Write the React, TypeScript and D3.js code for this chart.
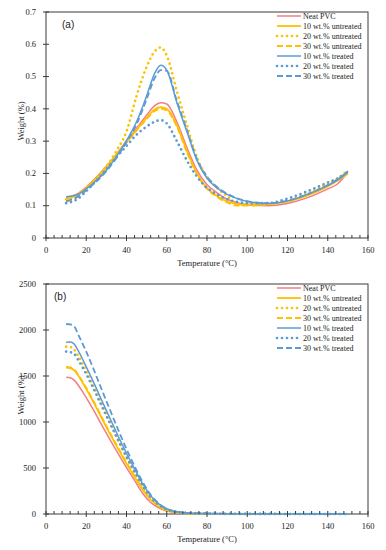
import React from 'react';
import * as d3 from 'd3';

// panel (a) temperatures and weight (%)
const tempA = [10, 15, 20, 25, 30, 35, 40, 45, 50, 54, 57, 60, 65, 70, 75, 80, 85, 90, 95, 100, 110, 120, 130, 140, 145, 150];
const neatA = [0.125, 0.135, 0.158, 0.188, 0.222, 0.26, 0.3, 0.34, 0.38, 0.41, 0.419, 0.415, 0.36, 0.28, 0.21, 0.165, 0.14, 0.12, 0.109, 0.103, 0.1, 0.107, 0.125, 0.152, 0.168, 0.205];
const untr10A = [0.122, 0.132, 0.155, 0.185, 0.22, 0.258, 0.297, 0.335, 0.372, 0.398, 0.405, 0.4, 0.35, 0.27, 0.2, 0.155, 0.13, 0.113, 0.105, 0.104, 0.105, 0.113, 0.132, 0.16, 0.178, 0.2];
const untr20A = [0.12, 0.13, 0.155, 0.185, 0.222, 0.27, 0.33, 0.44, 0.53, 0.578, 0.59, 0.565, 0.455, 0.35, 0.25, 0.19, 0.155, 0.13, 0.105, 0.103, 0.105, 0.115, 0.138, 0.168, 0.185, 0.21];
const untr30A = [0.112, 0.125, 0.15, 0.182, 0.217, 0.255, 0.295, 0.333, 0.368, 0.393, 0.4, 0.395, 0.345, 0.265, 0.197, 0.152, 0.127, 0.11, 0.1, 0.1, 0.104, 0.113, 0.133, 0.162, 0.18, 0.2];
const tr10A = [0.128, 0.133, 0.152, 0.178, 0.21, 0.252, 0.302, 0.36, 0.44, 0.51, 0.535, 0.52, 0.42, 0.33, 0.24, 0.185, 0.155, 0.135, 0.122, 0.113, 0.107, 0.115, 0.135, 0.163, 0.18, 0.205];
const tr20A = [0.108, 0.118, 0.145, 0.178, 0.213, 0.25, 0.285, 0.32, 0.345, 0.36, 0.365, 0.355, 0.3, 0.24, 0.19, 0.155, 0.135, 0.12, 0.112, 0.108, 0.108, 0.122, 0.145, 0.172, 0.185, 0.205];
const tr30A = [0.115, 0.125, 0.148, 0.175, 0.207, 0.248, 0.297, 0.352, 0.43, 0.495, 0.52, 0.518, 0.425, 0.335, 0.245, 0.19, 0.158, 0.137, 0.123, 0.114, 0.108, 0.116, 0.136, 0.164, 0.182, 0.207];

// panel (b)
const tempB = [10, 12, 14, 16, 18, 20, 24, 28, 32, 36, 40, 44, 48, 52, 56, 60, 65, 70, 80, 90, 100, 110, 120, 130, 140, 150];
const neatB = [1486, 1480, 1455, 1400, 1335, 1265, 1115, 955, 800, 650, 505, 365, 225, 125, 68, 33, 14, 6, 2, 1, 1, 0, 0, 0, 0, 0];
const untr10B = [1590, 1585, 1562, 1505, 1435, 1360, 1200, 1030, 862, 702, 548, 402, 265, 155, 82, 40, 17, 8, 3, 1, 1, 0, 0, 0, 0, 0];
const untr20B = [1819, 1815, 1788, 1718, 1638, 1552, 1372, 1178, 988, 800, 620, 455, 305, 180, 95, 48, 20, 9, 3, 2, 1, 1, 0, 0, 0, 0];
const untr30B = [1600, 1594, 1572, 1515, 1446, 1372, 1212, 1042, 874, 714, 560, 414, 276, 163, 87, 43, 19, 9, 3, 1, 1, 0, 0, 0, 0, 0];
const tr10B = [1866, 1870, 1848, 1775, 1690, 1600, 1415, 1220, 1030, 840, 660, 490, 330, 200, 110, 55, 25, 12, 5, 2, 1, 1, 0, 0, 0, 0];
const tr20B = [1765, 1760, 1740, 1675, 1600, 1520, 1345, 1160, 975, 795, 620, 460, 310, 185, 100, 50, 22, 10, 4, 2, 1, 1, 0, 0, 0, 0];
const tr30B = [2065, 2060, 2040, 1950, 1860, 1765, 1555, 1335, 1120, 910, 705, 520, 350, 210, 115, 58, 26, 12, 5, 2, 1, 1, 0, 0, 0, 0];

const seriesNames = ['Neat PVC', '10 wt.% untreated', '20 wt.% untreated', '30 wt.% untreated', '10 wt.% treated', '20 wt.% treated', '30 wt.% treated'];
const xTicks = [0, 20, 40, 60, 80, 100, 120, 140, 160];
const yTicksA = [0, 0.1, 0.2, 0.3, 0.4, 0.5, 0.6, 0.7];
const yTicksB = [0, 500, 1000, 1500, 2000, 2500];

const RED = '#f47c83';
const YEL = '#ffc000';
const BLUE = '#5b9bd5';
const styles = [
  { color: RED, dash: 'none', w: 1.5, cap: 'butt' },
  { color: YEL, dash: 'none', w: 1.8, cap: 'butt' },
  { color: YEL, dash: '0 5', w: 2.7, cap: 'round' },
  { color: YEL, dash: '6 3', w: 1.8, cap: 'butt' },
  { color: BLUE, dash: 'none', w: 1.5, cap: 'butt' },
  { color: BLUE, dash: '0 5', w: 2.7, cap: 'round' },
  { color: BLUE, dash: '6 3', w: 1.8, cap: 'butt' },
];

const serif = '"Liberation Serif", serif';
const axisColor = '#3a3a3a';

interface PanelProps {
  top: number;
  bottom: number;
  temps: number[];
  series: number[][];
  yTicks: number[];
  yFmt: (v: number) => string;
  label: string;
}

const left = 46;
const right = 368;

const Panel: React.FC<PanelProps> = ({ top, bottom, temps, series, yTicks, yFmt, label }) => {
  const x = d3.scaleLinear().domain([0, 160]).range([left, right]);
  const y = d3.scaleLinear().domain([0, yTicks[yTicks.length - 1]]).range([bottom, top]);
  const line = d3.line<number>()
    .x((_, i) => x(temps[i]))
    .y(d => y(d))
    .curve(d3.curveMonotoneX);
  const minor = d3.range(0, 161, 4).filter(t => t % 20 !== 0);
  const legX = 277;
  return (
    <g>
      <rect x={left} y={top} width={right - left} height={bottom - top} fill="none" stroke={axisColor} strokeWidth={1} />
      {series.map((s, i) => (
        <path key={i} d={line(s) || ''} fill="none" stroke={styles[i].color}
          strokeWidth={styles[i].w} strokeDasharray={styles[i].dash}
          strokeLinecap={styles[i].cap as any} strokeLinejoin="round" />
      ))}
      {yTicks.map(t => (
        <g key={t} transform={`translate(0,${y(t)})`}>
          <line x1={left - 3} x2={left + 3} stroke={axisColor} />
          <text x={left - 10} dy="0.32em" textAnchor="end" fontFamily={serif} fontSize={8.5} fill="#222">{yFmt(t)}</text>
        </g>
      ))}
      {xTicks.map(t => (
        <g key={t} transform={`translate(${x(t)},${bottom})`}>
          <line y1={-3} y2={3} stroke={axisColor} />
          <text y={15} textAnchor="middle" fontFamily={serif} fontSize={8.5} fill="#222">{t}</text>
        </g>
      ))}
      {minor.map(t => (
        <line key={t} x1={x(t)} x2={x(t)} y1={bottom - 3} y2={bottom} stroke={axisColor} />
      ))}
      <text x={(left + right) / 2} y={bottom + 28} textAnchor="middle" fontFamily={serif} fontSize={8.5} fill="#222">Temperature (°C)</text>
      <text transform={`translate(24,${(top + bottom) / 2 - 4}) rotate(-90)`} textAnchor="middle" fontFamily={serif} fontSize={8.5} fill="#222">Weight (%)</text>
      <text x={label === '(a)' ? 62 : 54} y={top + 16} fontFamily='"Liberation Sans", sans-serif' fontSize={10} fill="#222">{label}</text>
      {seriesNames.map((n, i) => (
        <g key={n} transform={`translate(0,${top + 4 + i * 10})`}>
          <line x1={legX} x2={legX + 24} stroke={styles[i].color} strokeWidth={styles[i].w}
            strokeDasharray={styles[i].dash} strokeLinecap={styles[i].cap as any} />
          <text x={legX + 26} dy="0.32em" fontFamily={serif} fontSize={8} fill="#222">{n}</text>
        </g>
      ))}
    </g>
  );
};

export default function App() {
  const fmtA = (v: number) => (v === 0 ? '0' : d3.format('.1f')(v));
  const fmtB = (v: number) => String(v);
  return (
    <svg width={386} height={550} style={{ position: 'absolute', left: 0, top: 0, background: '#fff' }}>
      <Panel top={12} bottom={238} temps={tempA}
        series={[neatA, untr10A, untr20A, untr30A, tr10A, tr20A, tr30A]}
        yTicks={yTicksA} yFmt={fmtA} label="(a)" />
      <Panel top={284} bottom={514} temps={tempB}
        series={[neatB, untr10B, untr20B, untr30B, tr10B, tr20B, tr30B]}
        yTicks={yTicksB} yFmt={fmtB} label="(b)" />
    </svg>
  );
}
